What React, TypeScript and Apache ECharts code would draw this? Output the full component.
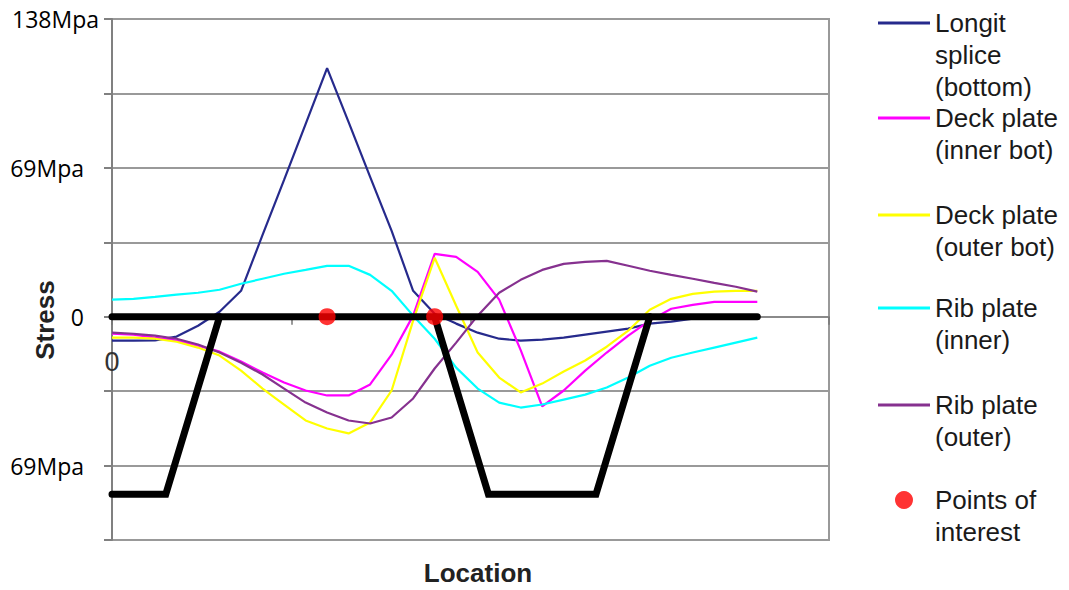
import React, { useEffect, useRef } from 'react';
import * as echarts from 'echarts';

// Location along the deck (x) and stress values in MPa (y)
const locations = [0, 0.12, 0.24, 0.36, 0.48, 0.6, 0.72, 0.84, 0.96, 1.08, 1.2, 1.32, 1.44, 1.56, 1.68, 1.8, 1.92, 2.04, 2.16, 2.28, 2.4, 2.52, 2.64, 2.76, 2.88, 3.0, 3.12, 3.24, 3.36, 3.48, 3.6];

const longitSplice = [-11.1, -11.1, -11.0, -9.2, -4.2, 2.3, 12.0, 37.9, 63.4, 89.3, 115.2, 90.2, 64.8, 39.8, 12.0, 1.4, -3.2, -7.4, -10.2, -11.1, -10.6, -9.7, -8.3, -6.9, -5.5, -3.2, -2.3, -0.9, -0.5, 0, 0];
const deckInner = [-7.9, -8.3, -9.7, -11.1, -13.4, -16.2, -20.8, -25.9, -30.5, -34.2, -36.5, -36.5, -31.4, -17.6, 0.5, 29.1, 27.7, 20.8, 7.9, -15.5, -41.6, -34.2, -25.0, -16.6, -8.8, -1.8, 3.7, 5.5, 6.9, 6.9, 6.9];
const deckOuter = [-9.7, -9.7, -10.2, -11.6, -14.3, -18.0, -25.0, -33.3, -40.7, -48.1, -51.8, -54.1, -49.0, -34.2, -1.8, 27.3, 5.1, -16.6, -28.2, -35.1, -31.0, -25.4, -20.3, -13.9, -6.5, 3.2, 8.3, 10.6, 11.6, 12.0, 12.0];
const ribInner = [7.9, 8.3, 9.2, 10.2, 11.1, 12.5, 15.3, 17.6, 19.9, 21.7, 23.6, 23.6, 19.4, 12.0, 0.5, -10.2, -23.6, -33.3, -39.8, -42.1, -40.7, -38.4, -36.1, -32.8, -28.2, -22.7, -19.0, -16.6, -14.3, -12.0, -9.7];
const ribOuter = [-7.4, -7.9, -8.8, -10.2, -12.9, -16.6, -21.3, -26.8, -33.3, -39.8, -44.4, -48.1, -49.5, -46.7, -37.9, -24.0, -12.0, 0.5, 11.1, 17.1, 21.7, 24.5, 25.4, 25.9, 23.6, 21.3, 19.4, 17.6, 15.7, 13.9, 11.6];

// Deck/rib profile (thick black line)
const deckLineLoc = [0, 3.6];
const deckLineStress = [0, 0];
const rib1Loc = [0, 0.3, 0.6];
const rib1Stress = [-82.3, -82.3, 0];
const rib2Loc = [1.8, 2.1, 2.7, 3.0];
const rib2Stress = [0, -82.3, -82.3, 0];

// Points of interest
const pointsLoc = [1.2, 1.8];
const pointsStress = [0, 0];

// Axis tick labels
const stressTickValues = [138, 69, 0, -69];
const stressTickLabels = ['138Mpa', '69Mpa', '0', '69Mpa'];
const locationTickLabels = ['0'];

const seriesNames = [
  'Longit splice (bottom)',
  'Deck plate (inner bot)',
  'Deck plate (outer bot)',
  'Rib plate (inner)',
  'Rib plate (outer)',
  'Points of interest',
];
const legendLines = [
  ['Longit', 'splice', '(bottom)'],
  ['Deck plate', '(inner bot)'],
  ['Deck plate', '(outer bot)'],
  ['Rib plate', '(inner)'],
  ['Rib plate', '(outer)'],
  ['Points of', 'interest'],
];
const seriesColors = ['#262a8c', '#ff00ff', '#ffff00', '#00ffff', '#86318f', '#ff0000'];
const lineValues = [longitSplice, deckInner, deckOuter, ribInner, ribOuter];

const legendIconY = [23, 118, 215, 308, 405, 500];
const LH = 32;

export default function App() {
  const ref = useRef<HTMLDivElement>(null);

  useEffect(() => {
    if (!ref.current) return;
    const chart = echarts.init(ref.current, null, { renderer: 'svg' });

    const pairs = (xs: number[], ys: number[]) => xs.map((x, i) => [x, ys[i]]);

    const lineSeries = lineValues.map((vals, k) => ({
      name: seriesNames[k],
      type: 'line',
      data: pairs(locations, vals),
      symbol: 'none',
      lineStyle: { color: seriesColors[k], width: 2.2 },
      itemStyle: { color: seriesColors[k] },
      z: 2,
    }));

    const blackStyle = { color: '#000', width: 7, cap: 'round', join: 'miter' };
    const profileSeries = [
      pairs(deckLineLoc, deckLineStress),
      pairs(rib1Loc, rib1Stress),
      pairs(rib2Loc, rib2Stress),
    ].map((d, k) => ({
      name: 'profile' + k,
      type: 'line',
      data: d,
      symbol: 'none',
      lineStyle: blackStyle,
      itemStyle: { color: '#000' },
      z: 3,
      silent: true,
    }));

    // one legend per entry: blank lines above the text keep the icon level with the first line
    const legends = seriesNames.map((name, k) => {
      const n = legendLines[k].length;
      const blank = n - 1;
      const total = n + blank;
      const isPoint = k === 5;
      return {
        data: [name],
        left: isPoint ? 895 : 878,
        top: legendIconY[k] - (total * LH) / 2,
        orient: 'vertical',
        padding: 0,
        itemGap: 0,
        itemWidth: 52,
        itemHeight: isPoint ? 18 : 3,
        icon: isPoint ? 'circle' : 'rect',
        selectedMode: false,
        formatter: () => '\n'.repeat(blank) + legendLines[k].join('\n'),
        textStyle: {
          fontFamily: 'Liberation Sans',
          fontSize: 26,
          lineHeight: LH,
          color: '#1a1a1a',
        },
      };
    });

    const labelFor = (v: number) => {
      const idx = stressTickValues.indexOf(Math.round(v * 10) / 10);
      if (idx < 0) return '';
      return idx === 0 ? `{a|${stressTickLabels[idx]}}` : `{b|${stressTickLabels[idx]}}`;
    };

    chart.setOption({
      animation: false,
      backgroundColor: '#ffffff',
      grid: {
        left: 112,
        right: 240,
        top: 19,
        bottom: 50,
        containLabel: false,
        outerBoundsMode: 'none',
        show: true,
        borderColor: '#999',
        borderWidth: 2,
        backgroundColor: 'transparent',
      },
      legend: legends,
      xAxis: {
        type: 'value',
        min: 0,
        max: 4,
        interval: 1,
        name: 'Location',
        nameLocation: 'middle',
        nameGap: 20,
        nameMoveOverlap: false,
        nameTextStyle: {
          fontFamily: 'Liberation Sans',
          fontWeight: 'bold',
          fontSize: 26,
          color: '#222',
          padding: [0, 0, 0, 15],
        },
        axisLine: { onZero: true, lineStyle: { color: '#8a8a8a', width: 2 } },
        axisTick: { show: true, length: 8, lineStyle: { color: '#777', width: 1.5 } },
        axisLabel: {
          inside: true,
          margin: 165,
          fontFamily: 'Liberation Sans',
          fontSize: 27,
          color: '#333',
          showMinLabel: true,
          formatter: (v: number) => locationTickLabels[v] ?? '',
        },
        splitLine: { show: false },
      },
      yAxis: {
        type: 'value',
        min: -103.5,
        max: 138,
        interval: 34.5,
        name: 'Stress',
        nameLocation: 'middle',
        nameRotate: 90,
        nameGap: 54,
        nameMoveOverlap: false,
        nameTextStyle: {
          fontFamily: 'Liberation Sans',
          fontWeight: 'bold',
          fontSize: 26,
          color: '#222',
          padding: [0, 81, 0, 0],
        },
        axisLine: { show: true, onZero: false, lineStyle: { color: '#808080', width: 2 } },
        axisTick: { show: true, length: 8, lineStyle: { color: '#808080', width: 2 } },
        axisLabel: {
          margin: 13,
          formatter: labelFor,
          rich: {
            a: { fontFamily: 'Open Sans', fontSize: 23, color: '#000' },
            b: { fontFamily: 'Open Sans', fontSize: 23, color: '#000', padding: [0, 15, 0, 0] },
          },
        },
        splitLine: { show: true, lineStyle: { color: '#999', width: 2 } },
      },
      series: [
        ...lineSeries,
        ...profileSeries,
        {
          name: seriesNames[5],
          type: 'scatter',
          data: pairs(pointsLoc, pointsStress),
          symbol: 'circle',
          symbolSize: 17,
          itemStyle: { color: seriesColors[5] },
          z: 4,
        },
      ],
    });

    return () => chart.dispose();
  }, []);

  return (
    <div
      ref={ref}
      style={{ position: 'fixed', left: 0, top: 0, width: 1069, height: 590, background: '#fff' }}
    />
  );
}
